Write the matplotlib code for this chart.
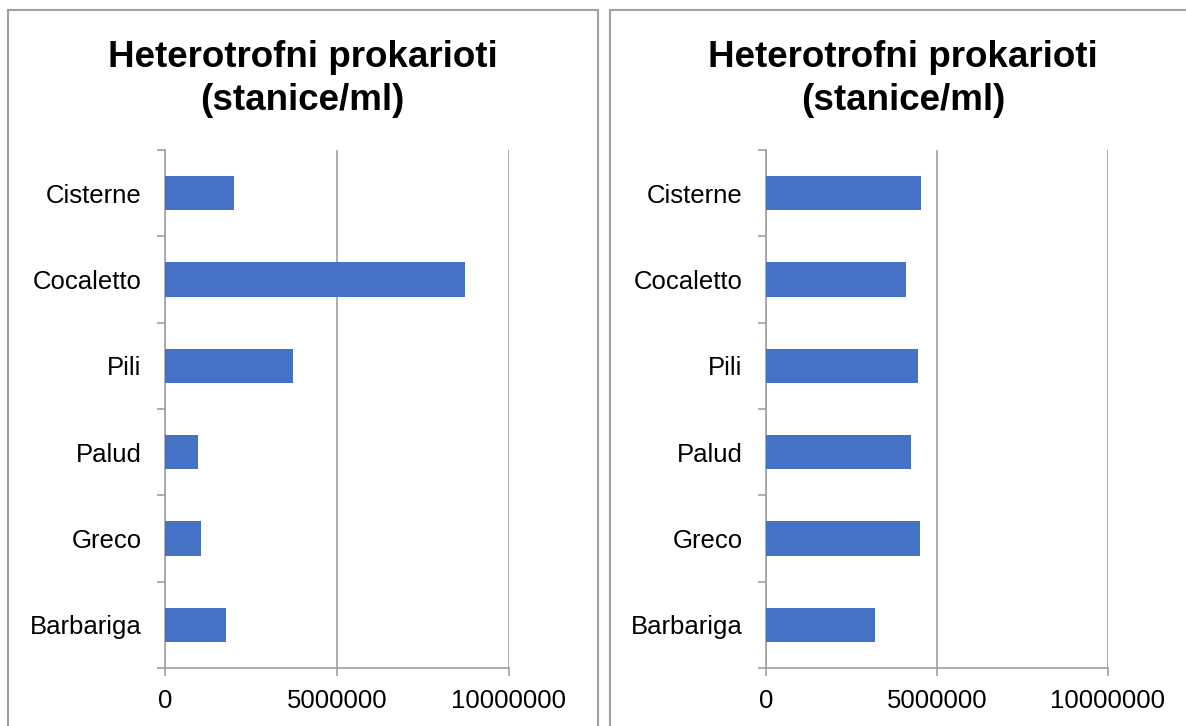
import matplotlib
matplotlib.use("Agg")
import matplotlib.pyplot as plt
from matplotlib.patches import Rectangle

plt.rcParams["font.family"] = ["Liberation Sans", "DejaVu Sans"]

sites = ["Cisterne", "Cocaletto", "Pili", "Palud", "Greco", "Barbariga"]
cells_left = [2000000, 8720000, 3720000, 960000, 1050000, 1780000]
cells_right = [4530000, 4090000, 4440000, 4240000, 4500000, 3190000]
x_ticks = [0, 5000000, 10000000]
title = "Heterotrofni prokarioti\n(stanice/ml)"

BAR = "#4472C4"
GREY = "#A0A0A0"
W, H = 1186, 726

fig = plt.figure(figsize=(W / 100, H / 100), dpi=100)


def panel(x0, x1, title_x):
    # panel frame
    fig.patches.append(Rectangle((x0 / W, -0.02), (x1 - x0) / W, (H - 9.5) / H + 0.02,
                                 transform=fig.transFigure, fill=False,
                                 edgecolor=GREY, lw=1.5))
    fig.text(title_x / W, 1 - 79 / H, title, ha="center", va="center",
             fontsize=26.5, fontweight="bold", linespacing=1.3)


def bar_axes(left_px, width_px, values):
    ax = fig.add_axes([left_px / W, 58 / H, width_px / W, 518 / H])
    y = range(len(sites))
    ax.barh(y, values, height=0.4, color=BAR, zorder=3)
    ax.set_ylim(len(sites) - 0.5, -0.5)
    ax.set_xlim(0, 10000000)
    ax.set_yticks(list(y))
    ax.set_yticklabels(sites)
    ax.set_yticks([i - 0.5 for i in range(len(sites) + 1)], minor=True)
    ax.set_xticks(x_ticks)
    ax.set_xticklabels([str(v) for v in x_ticks])
    ax.tick_params(axis="y", which="major", length=0, pad=17, labelsize=18.5)
    ax.tick_params(axis="y", which="minor", length=6, width=1.2, color=GREY)
    ax.tick_params(axis="x", length=6, width=1.2, color=GREY, pad=9, labelsize=18.5)
    ax.grid(axis="x", color=GREY, lw=1.2, zorder=0)
    for s in ("top", "right"):
        ax.spines[s].set_visible(False)
    for s in ("left", "bottom"):
        ax.spines[s].set_color(GREY)
        ax.spines[s].set_linewidth(1.2)
    return ax


panel(8, 597.5, 302.5)
panel(609.5, 1200, 903)
bar_axes(165, 344, cells_left)
bar_axes(766, 342, cells_right)

fig.savefig("out.png", dpi=100)
